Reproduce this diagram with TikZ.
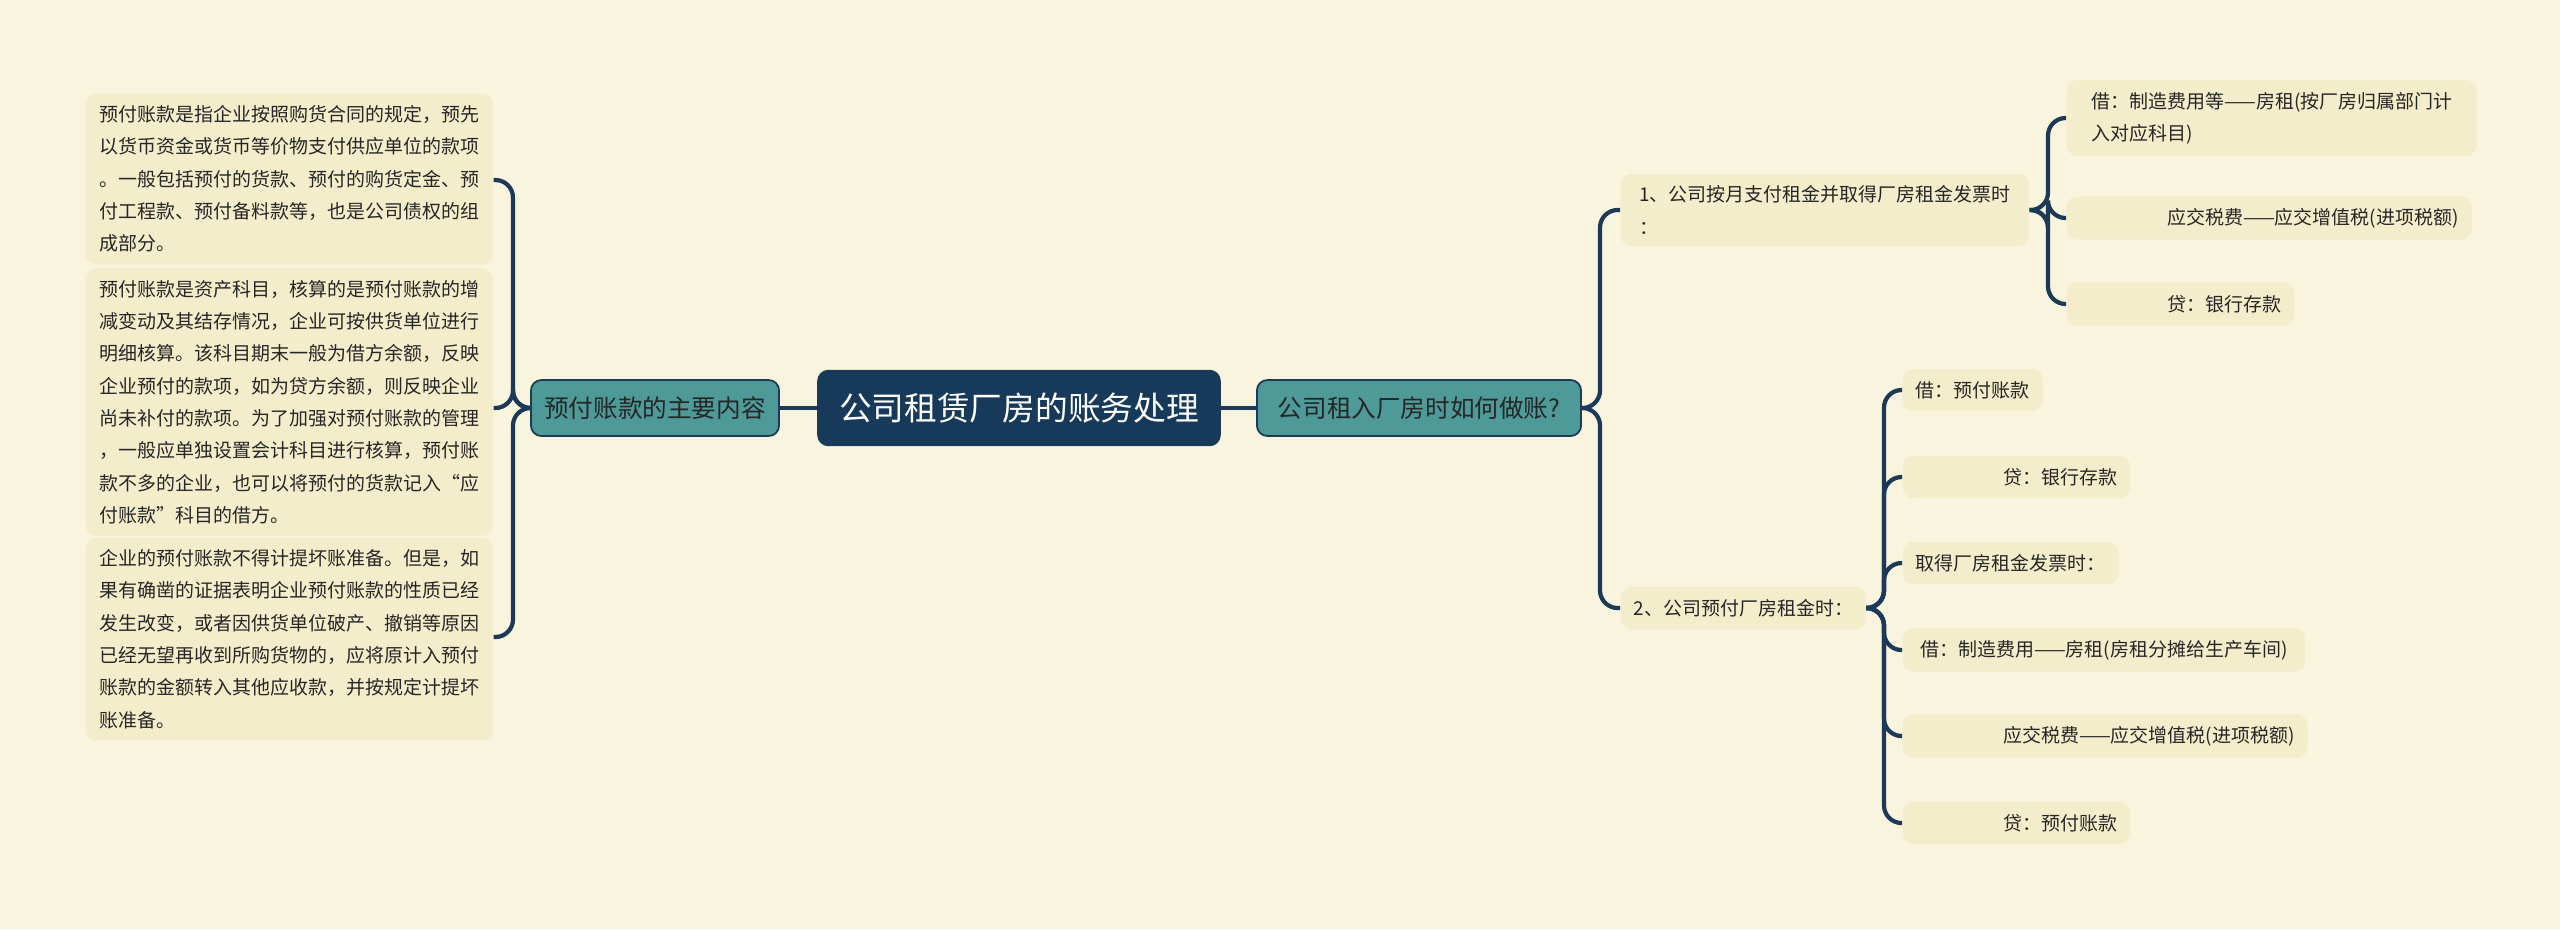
\documentclass[tikz,border=0pt]{standalone}
\usepackage{fontspec}
\setmainfont{Noto Sans CJK SC}
\definecolor{bgc}{HTML}{F9F4DE}
\definecolor{leafc}{HTML}{F4EDCB}
\definecolor{linec}{HTML}{1C3A58}
\definecolor{tealc}{HTML}{4E9A98}
\definecolor{rootc}{HTML}{17395A}
\tikzset{
  leaf/.style={fill=leafc, rounded corners=3pt, anchor=west, align=left, inner xsep=0.13cm,
    font=\fontsize{5.4}{9.2}\selectfont, text=black!85},
  mid/.style={fill=tealc, draw=linec, line width=0.5pt, rounded corners=3pt, minimum height=0.56cm,
    font=\fontsize{7}{9}\selectfont, text=black!85},
  link/.style={draw=linec, line width=1.2pt, rounded corners=5pt}
}
\begin{document}
\begin{tikzpicture}[x=0.01cm, y=-0.01cm]
  \fill[bgc] (0,0) rectangle (2560,929);
  \useasboundingbox (0,0) rectangle (2560,929);

  % centre and the two main branches
  \node[fill=rootc, draw=linec, rounded corners=3pt, minimum width=4.02cm, minimum height=0.75cm,
        text=white, font=\fontsize{9.3}{11}\selectfont] (root) at (1019,408) {公司租赁厂房的账务处理};
  \node[mid, minimum width=2.48cm] (yf) at (655,408) {预付账款的主要内容};
  \node[mid, minimum width=3.24cm] (zr) at (1419,408) {公司租入厂房时如何做账?};
  \draw[link] (root.west) -- (yf.east);
  \draw[link] (root.east) -- (zr.west);

  % left side: notes on prepayments
  \node[leaf, minimum width=4.07cm, minimum height=1.42cm] (n1) at (85,179)
    {预付账款是指企业按照购货合同的规定，预先\\以货币资金或货币等价物支付供应单位的款项\\。一般包括预付的货款、预付的购货定金、预\\付工程款、预付备料款等，也是公司债权的组\\成部分。};
  \node[leaf, minimum width=4.07cm, minimum height=2.17cm] (n2) at (85,402)
    {预付账款是资产科目，核算的是预付账款的增\\减变动及其结存情况，企业可按供货单位进行\\明细核算。该科目期末一般为借方余额，反映\\企业预付的款项，如为贷方余额，则反映企业\\尚未补付的款项。为了加强对预付账款的管理\\，一般应单独设置会计科目进行核算，预付账\\款不多的企业，也可以将预付的货款记入“应\\付账款”科目的借方。};
  \node[leaf, minimum width=4.07cm, minimum height=1.68cm] (n3) at (85,639)
    {企业的预付账款不得计提坏账准备。但是，如\\果有确凿的证据表明企业预付账款的性质已经\\发生改变，或者因供货单位破产、撤销等原因\\已经无望再收到所购货物的，应将原计入预付\\账款的金额转入其他应收款，并按规定计提坏\\账准备。};
  \foreach \n/\yy in {n1/180,n2/408,n3/637}
    \draw[link] (yf.west) -- (513,408) |- (\n.east |- 0,\yy);

  % right side: the two cases
  \node[leaf, minimum width=4.08cm, minimum height=0.69cm] (c1) at (1620,210)
    {1、公司按月支付租金并取得厂房租金发票时\\：};
  \node[leaf, minimum width=2.45cm, minimum height=0.42cm] (c2) at (1620,608) {2、公司预付厂房租金时：};
  \foreach \n in {c1,c2}
    \draw[link] (zr.east) -- (1600,408) |- (\n.west);

  % case 1 entries
  \node[leaf, minimum width=4.10cm, minimum height=0.67cm] (a1) at (2066,118)
    {借：制造费用等——房租(按厂房归属部门计\\入对应科目)};
  \node[leaf, minimum width=3.69cm, minimum height=0.43cm] (a2) at (2066,218) {\hspace*{4.6em}应交税费——应交增值税(进项税额)};
  \node[leaf, minimum width=1.83cm, minimum height=0.43cm] (a3) at (2066,304) {\hspace*{4.6em}贷：银行存款};
  \foreach \n in {a1,a2,a3}
    \draw[link] (c1.east) -- (2048,210) |- (\n.west);

  % case 2 entries
  \node[leaf, minimum width=1.34cm, minimum height=0.42cm] (b1) at (1902,390) {借：预付账款};
  \node[leaf, minimum width=1.82cm, minimum height=0.42cm] (b2) at (1902,477) {\hspace*{4.6em}贷：银行存款};
  \node[leaf, minimum width=2.14cm, minimum height=0.42cm] (b3) at (1902,563) {取得厂房租金发票时：};
  \node[leaf, minimum width=4.02cm, minimum height=0.42cm] (b4) at (1902,650) {借：制造费用——房租(房租分摊给生产车间)};
  \node[leaf, minimum width=3.68cm, minimum height=0.42cm] (b5) at (1902,736) {\hspace*{4.6em}应交税费——应交增值税(进项税额)};
  \node[leaf, minimum width=1.82cm, minimum height=0.42cm] (b6) at (1902,823) {\hspace*{4.6em}贷：预付账款};
  \foreach \n in {b1,b2,b3,b4,b5,b6}
    \draw[link] (c2.east) -- (1884,608) |- (\n.west);
\end{tikzpicture}
\end{document}
